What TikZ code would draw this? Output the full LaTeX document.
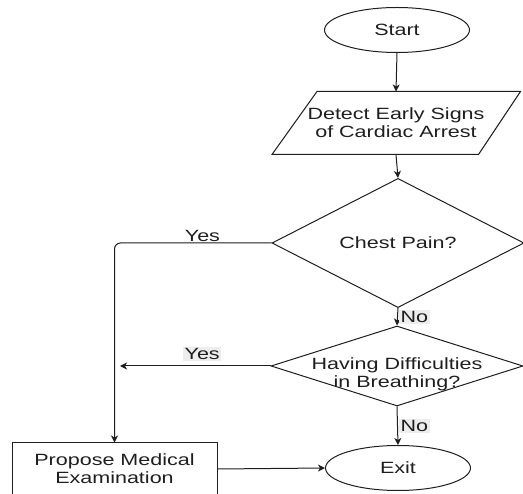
\documentclass[tikz,border=0pt]{standalone}
\usepackage{fontspec}
\setmainfont{Liberation Sans}[FakeStretch=1.32]
\usetikzlibrary{shapes.geometric,arrows.meta,calc}
\definecolor{ink}{HTML}{1E1E1E}
\definecolor{tagbg}{HTML}{EDEDED}
\begin{document}
\begin{tikzpicture}[x=1pt,y=-1pt,
  font=\fontsize{16.3}{18}\selectfont,
  line width=1pt, draw=ink, text=ink,
  >={Stealth[length=7pt,width=7pt,inset=2pt]},
  terminal/.style={ellipse, draw, inner sep=0pt, minimum width=145pt, minimum height=45pt},
  iobox/.style={rectangle, inner sep=0pt, minimum width=202pt, minimum height=62pt, align=center},
  decision/.style={diamond, draw, inner sep=0pt, minimum width=252pt, minimum height=80pt, align=center},
  process/.style={rectangle, draw, inner sep=0pt, minimum width=205pt, minimum height=52pt, align=center},
  tag/.style={inner sep=1.5pt},
  greytag/.style={tag, fill=tagbg}
]
\useasboundingbox (0,0) rectangle (523,494);
\clip (0,0) rectangle (523,494);

% nodes
\node[terminal] (start) at (397,30) {Start};
\node[iobox] (detect) at (396,123) {Detect Early Signs\\of Cardiac Arrest};
\draw ($(detect.north west)+(22.5,0)$) -- ($(detect.north east)+(23,0)$)
      -- ($(detect.south east)+(-19,0)$) -- ($(detect.south west)+(-22.5,0)$) -- cycle;
\node[decision] (chest) at (398,243) {Chest Pain?};
\node[decision] (breath) at (397,366) {};
\node[align=center, inner sep=0pt] (breathtext) at ($(breath.center)+(0,8)$)
  {Having Difficulties\\in Breathing?};
\node[process] (propose) at (114.5,469) {Propose Medical\\Examination};
\node[terminal] (exit) at (398,468) {Exit};
\coordinate (yesend) at (120,366);

% connectors
\draw[->] (start.south) -- (detect.north);
\draw[->] (detect.south) -- (chest.north);
\draw[->, rounded corners=6pt] (chest.west) -| (propose.north)
  node[tag, pos=0.22, anchor=south, inner sep=0.5pt] {Yes};
\draw[->] (chest.south) -- (breath.north)
  node[greytag, midway, anchor=west, xshift=1pt] {No};
\draw[->] (breath.west) -- (yesend)
  node[greytag, pos=0.454, anchor=south, yshift=4pt] {Yes};
\draw[->] (breath.south) -- (exit.north)
  node[greytag, midway, anchor=west, xshift=1pt] {No};
\draw[->] (propose.east) -- (exit.west);
\end{tikzpicture}
\end{document}
